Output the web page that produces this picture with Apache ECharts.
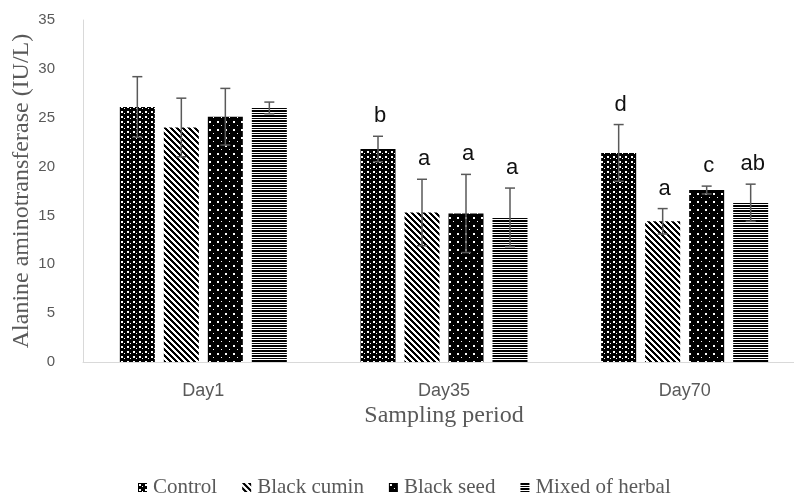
<!DOCTYPE html>
<html><head><meta charset="utf-8">
<script src="https://cdn.jsdelivr.net/npm/echarts@6/dist/echarts.min.js"></script>
<style>html,body{margin:0;padding:0;background:#fff}#c{width:794px;height:494px}</style>
</head><body><div id="c"></div>
<script>
const categories = ['Day1', 'Day35', 'Day70'];
const seriesNames = ['Control', 'Black cumin', 'Black seed', 'Mixed of herbal'];
const control = [26.1, 21.8, 21.4];
const blackCumin = [24.0, 15.3, 14.4];
const blackSeed = [25.1, 15.2, 17.6];
const mixedHerbal = [26.0, 14.8, 16.3];
const controlSD = [3.1, 1.3, 2.9];
const blackCuminSD = [3.0, 3.4, 1.3];
const blackSeedSD = [2.9, 4.0, 0.4];
const mixedHerbalSD = [0.6, 3.0, 1.9];
const controlLetters = ['', 'b', 'd'];
const blackCuminLetters = ['', 'a', 'a'];
const blackSeedLetters = ['', 'a', 'c'];
const mixedHerbalLetters = ['', 'a', 'ab'];
const yTicks = [0, 5, 10, 15, 20, 25, 30, 35];

const values = [control, blackCumin, blackSeed, mixedHerbal];
const sds = [controlSD, blackCuminSD, blackSeedSD, mixedHerbalSD];
const letters = [controlLetters, blackCuminLetters, blackSeedLetters, mixedHerbalLetters];

function makePattern(w, h, draw) {
  const cv = document.createElement('canvas');
  cv.width = w; cv.height = h;
  const ctx = cv.getContext('2d');
  ctx.fillStyle = '#fff'; ctx.fillRect(0, 0, w, h);
  ctx.fillStyle = '#000';
  draw(ctx);
  return { image: cv, repeat: 'repeat' };
}
const patControl = makePattern(6, 5, ctx => {
  ctx.fillRect(0, 0, 6, 5);
  ctx.fillStyle = '#fff';
  ctx.fillRect(1, 1, 2, 2);
  ctx.fillRect(4, 3, 1, 1);
});
const patCumin = makePattern(6, 6, ctx => {
  for (let i = 0; i < 6; i++) {
    for (let k = 0; k < 3; k++) ctx.fillRect((i + k) % 6, i, 1, 1);
  }
});
const patSeed = makePattern(8, 8, ctx => {
  ctx.fillRect(0, 0, 8, 8);
  ctx.fillStyle = '#fff';
  ctx.fillRect(1, 1, 2, 2);
  ctx.fillRect(5, 5, 1, 1);
});
const patMixed = makePattern(4, 5, ctx => {
  ctx.fillRect(0, 0, 4, 2);
  ctx.fillRect(0, 3, 4, 1);
});
const patterns = [patControl, patCumin, patSeed, patMixed];

const BAR_W = 35, BAR_GAP = 9;

const barSeries = seriesNames.map((name, i) => ({
  name: name,
  type: 'bar',
  data: values[i],
  barWidth: BAR_W,
  barGap: (BAR_GAP / BAR_W * 100).toFixed(1) + '%',
  itemStyle: { color: patterns[i] }
}));

const errData = [];
values.forEach((arr, s) => arr.forEach((v, c) => errData.push([c, s, v, sds[s][c], letters[s][c]])));

const errSeries = {
  type: 'custom',
  z: 10,
  data: errData,
  renderItem: function (params, api) {
    const c = api.value(0), s = api.value(1), v = api.value(2), sd = api.value(3);
    const letter = errData[params.dataIndex][4];
    const off = (s - 1.5) * (BAR_W + BAR_GAP);
    const top = api.coord([c, v + sd]);
    const bot = api.coord([c, v - sd]);
    const x = top[0] + off;
    const cap = 5;
    const st = { stroke: '#595959', lineWidth: 1.5 };
    const children = [
      { type: 'line', shape: { x1: x, y1: top[1], x2: x, y2: bot[1] }, style: st },
      { type: 'line', shape: { x1: x - cap, y1: top[1], x2: x + cap, y2: top[1] }, style: st },
      { type: 'line', shape: { x1: x - cap, y1: bot[1], x2: x + cap, y2: bot[1] }, style: st }
    ];
    if (letter) {
      children.push({ type: 'text', style: { text: letter, x: x + 2, y: top[1] - 9, textAlign: 'center', textVerticalAlign: 'bottom', font: '22px "Liberation Sans", Arial, sans-serif', fill: '#111' } });
    }
    return { type: 'group', children: children };
  }
};

const chart = echarts.init(document.getElementById('c'), null, { renderer: 'canvas' });
chart.setOption({
  animation: false,
  backgroundColor: '#fff',
  grid: { left: 83, top: 20, width: 722, bottom: 132, containLabel: false, outerBoundsMode: 'none' },
  legend: {
    data: seriesNames,
    top: 472,
    left: 133,
    icon: 'rect',
    itemWidth: 9, itemHeight: 9,
    itemGap: 25,
    textStyle: { fontFamily: '"Liberation Serif", "Times New Roman", serif', fontSize: 21, color: '#595959', padding: [0, 0, 0, 1] }
  },
  xAxis: {
    type: 'category',
    data: categories,
    name: 'Sampling period',
    nameLocation: 'middle',
    nameGap: 42,
    nameMoveOverlap: false,
    nameTextStyle: { fontFamily: '"Liberation Serif", "Times New Roman", serif', fontSize: 24, color: '#595959' },
    axisLine: { lineStyle: { color: '#d9d9d9', width: 1 } },
    axisTick: { show: false },
    axisLabel: { margin: 20, fontFamily: '"Liberation Sans", sans-serif', fontSize: 18, color: '#595959' }
  },
  yAxis: {
    type: 'value',
    min: 0, max: 35, interval: 5,
    name: 'Alanine aminotransferase (IU/L)',
    nameLocation: 'middle',
    nameGap: 49,
    nameMoveOverlap: false,
    nameTextStyle: { fontFamily: '"Liberation Serif", "Times New Roman", serif', fontSize: 24, color: '#595959' },
    axisLine: { show: true, lineStyle: { color: '#d9d9d9', width: 1 } },
    axisTick: { show: false },
    splitLine: { show: false },
    axisLabel: { margin: 28, fontFamily: '"Liberation Sans", sans-serif', fontSize: 15, color: '#595959',
      formatter: v => (yTicks.indexOf(v) >= 0 ? String(v) : '') }
  },
  series: barSeries.concat([errSeries])
});
</script>
</body></html>
